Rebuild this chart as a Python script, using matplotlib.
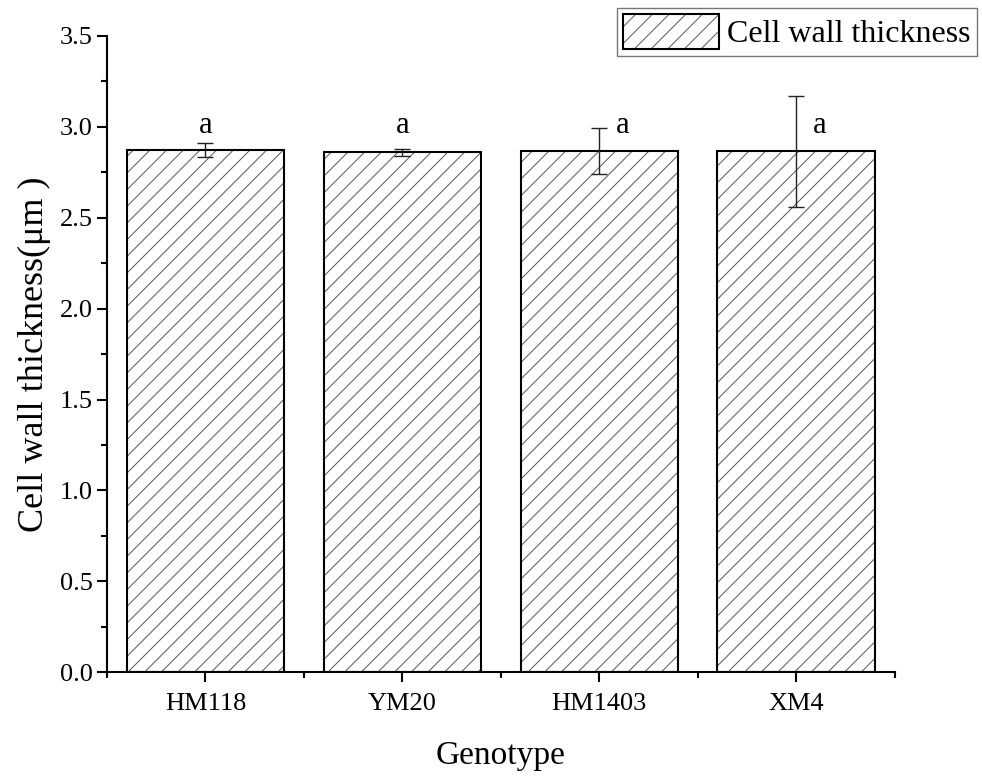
import matplotlib
matplotlib.use('Agg')
import matplotlib.pyplot as plt
import numpy as np
from matplotlib.patches import Patch
from matplotlib.legend_handler import HandlerTuple
from matplotlib.ticker import MultipleLocator, FixedLocator

genotypes = ['HM118', 'YM20', 'HM1403', 'XM4']
thickness = [2.87, 2.86, 2.865, 2.865]
err = [0.038, 0.02, 0.127, 0.305]
letters = ['a', 'a', 'a', 'a']

plt.rcParams['font.family'] = ['Liberation Serif', 'DejaVu Serif']
plt.rcParams['hatch.linewidth'] = 0.7

fig = plt.figure(figsize=(9.82, 7.79), dpi=100)
ax = fig.add_axes([0.109, 0.137, 0.802, 0.817])

x = np.arange(len(genotypes))
# hatch layer (gray lines) and outline layer (black edge)
ax.bar(x, thickness, width=0.8, color='white', edgecolor='#555555', hatch='//', linewidth=0, zorder=2)
ax.bar(x, thickness, width=0.8, color='none', edgecolor='black', linewidth=1.5, zorder=3)
ax.errorbar(x, thickness, yerr=err, fmt='none', ecolor='#222222', elinewidth=1.0,
            capsize=6, capthick=1.0, zorder=4)

for i in range(len(genotypes)):
    # letter goes beside the error bar when the bar is long
    dx = 0.12 if err[i] > 0.05 else 0.0
    ax.text(x[i] + dx, 2.925, letters[i], ha='center', va='bottom', fontsize=22)

ax.set_xlim(-0.5, 3.5)
ax.set_ylim(0, 3.5)
ax.set_xticks(x)
ax.set_xticklabels(genotypes)
ax.xaxis.set_minor_locator(FixedLocator(np.arange(-0.5, 4.0, 1.0)))
ax.yaxis.set_major_locator(MultipleLocator(0.5))
ax.yaxis.set_minor_locator(MultipleLocator(0.25))
ax.yaxis.set_major_formatter(matplotlib.ticker.FormatStrFormatter('%.1f'))

for s in ['top', 'right']:
    ax.spines[s].set_visible(False)
for s in ['left', 'bottom']:
    ax.spines[s].set_linewidth(1.5)

ax.tick_params(which='major', direction='out', length=7, width=1.5, labelsize=19)
ax.tick_params(axis='x', which='major', pad=8)
ax.tick_params(which='minor', direction='out', length=4, width=1.5)

ax.set_xlabel('Genotype', fontsize=24, labelpad=18)
ax.set_ylabel('Cell wall thickness(μm )', fontsize=26, labelpad=6)

h1 = Patch(facecolor='white', edgecolor='#555555', hatch='//', linewidth=0)
h2 = Patch(facecolor='none', edgecolor='black', linewidth=1.5)
leg = fig.legend([(h1, h2)], ['Cell wall thickness'], handler_map={tuple: HandlerTuple(ndivide=1, pad=0)},
                 loc='upper right', bbox_to_anchor=(0.995, 0.99), fontsize=23, fancybox=False,
                 handlelength=3.0, handleheight=1.3, handletextpad=0.25, borderpad=0.2,
                 borderaxespad=0)
leg.get_frame().set_edgecolor('#555555')
leg.get_frame().set_linewidth(1.0)

fig.savefig('out.png', dpi=100)
